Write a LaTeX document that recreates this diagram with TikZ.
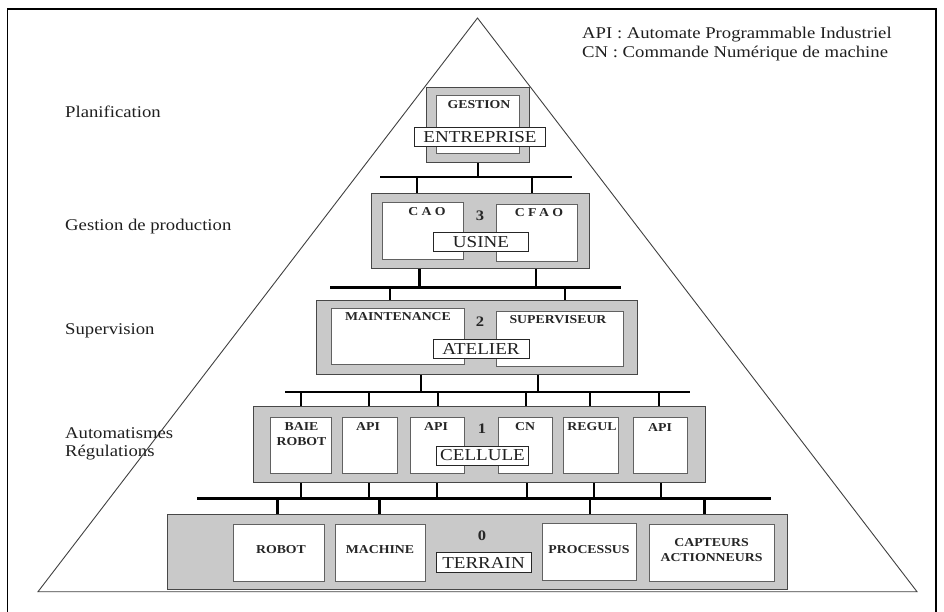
\documentclass[tikz,border=0pt]{standalone}
\usepackage{fontspec}
\newfontfamily\lsf[FakeStretch=1.14]{Liberation Serif}
\newfontfamily\lsfcao[FakeStretch=1.14,LetterSpace=28]{Liberation Serif}
\usetikzlibrary{backgrounds}
\begin{document}
\begin{tikzpicture}[x=1pt,y=-1pt,
  graybox/.style={draw=black!72, fill=black!21, line width=1.4pt, inner sep=0pt, anchor=north west},
  whitebox/.style={draw=black!62, fill=white, line width=1.3pt, inner sep=0pt, anchor=north west},
  lblbox/.style={draw=black!85, fill=white, line width=1pt, inner sep=0pt, font=\lsf\fontsize{16.7}{17}\selectfont, text=black!88},
  sm/.style={font=\lsf\bfseries\fontsize{12.1}{14.5}\selectfont, text=black!85, align=center, inner sep=0pt},
  spaced/.style={font=\lsfcao\bfseries\fontsize{12.1}{14}\selectfont, text=black!85, inner sep=0pt},
  digit/.style={font=\lsf\bfseries\fontsize{14.5}{14}\selectfont, text=black!85, inner sep=0pt},
  side/.style={font=\lsf\fontsize{16.4}{18}\selectfont, text=black!88, anchor=base west, inner sep=0pt},
  bus/.style={line width=2.8pt},
  stem/.style={line width=2.3pt}]
\useasboundingbox (0,0) rectangle (944,612);

% frame
\draw[line width=1.6pt] (7.5,612) -- (7.5,9) -- (936,9) -- (936,612);

% side labels
\node[side] (planif) at (65,118) {Planification};
\node[side] (gprod) at (65,231) {Gestion de production};
\node[side] (superv) at (65,334) {Supervision};
\node[side] (autom) at (65,438) {Automatismes};
\node[side] (regul) at (65,456) {Régulations};

% legend
\node[side] (leg1) at (582,39) {API : Automate Programmable Industriel};
\node[side] (leg2) at (582,57.5) {CN : Commande Numérique de machine};

% ---- level 4 : entreprise
\node[graybox, minimum width=103pt, minimum height=75pt] (g4) at (426,87) {};
\node[whitebox, minimum width=83pt, minimum height=58pt] (w4) at (436,95) {};
\node[sm] (gestion) at (479,105) {GESTION};
\node[lblbox, minimum width=131pt, minimum height=18.5pt] (entreprise) at (480,137) {ENTREPRISE};

% ---- level 3 : usine
\node[graybox, minimum width=218pt, minimum height=75pt] (g3) at (371,193) {};
\node[whitebox, minimum width=81pt, minimum height=57pt] (cao) at (382,202) {};
\node[whitebox, minimum width=81pt, minimum height=57pt] (cfao) at (496,204) {};
\node[spaced] (caot) at (427,212) {CAO};
\node[spaced] (cfaot) at (539,213) {CFAO};
\node[digit] (d3) at (480,216) {3};
\node[lblbox, minimum width=95pt, minimum height=18pt] (usine) at (481,242) {USINE};

% ---- level 2 : atelier
\node[graybox, minimum width=321pt, minimum height=74pt] (g2) at (316,300) {};
\node[whitebox, minimum width=133pt, minimum height=56pt] (maint) at (331,308) {};
\node[whitebox, minimum width=127pt, minimum height=55pt] (supv) at (496,311) {};
\node[sm] (maintt) at (398,317) {MAINTENANCE};
\node[sm] (supvt) at (558,320) {SUPERVISEUR};
\node[digit] (d2) at (480,322) {2};
\node[lblbox, minimum width=96pt, minimum height=19pt] (atelier) at (481,349) {ATELIER};

% ---- level 1 : cellule
\node[graybox, minimum width=452pt, minimum height=76pt] (g1) at (253,406) {};
\node[whitebox, minimum width=61pt, minimum height=56pt] (c1) at (270,417) {};
\node[whitebox, minimum width=55pt, minimum height=56pt] (c2) at (342,417) {};
\node[whitebox, minimum width=54pt, minimum height=56pt] (c3) at (410,417) {};
\node[whitebox, minimum width=54pt, minimum height=56pt] (c4) at (498,417) {};
\node[whitebox, minimum width=55pt, minimum height=56pt] (c5) at (563,417) {};
\node[whitebox, minimum width=54pt, minimum height=56pt] (c6) at (633,417) {};
\node[sm] (c1t) at (301.5,434) {BAIE\\ROBOT};
\node[sm] (c2t) at (368,427) {API};
\node[sm] (c3t) at (436,427) {API};
\node[sm] (c4t) at (525,427) {CN};
\node[sm] (c5t) at (592,427) {REGUL};
\node[sm] (c6t) at (660,428) {API};
\node[digit] (d1) at (482,429) {1};
\node[lblbox, minimum width=92pt, minimum height=19pt] (cellule) at (482.5,455.5) {CELLULE};

% ---- level 0 : terrain
\node[graybox, minimum width=620pt, minimum height=75pt] (g0) at (167,514) {};
\node[whitebox, minimum width=91pt, minimum height=57pt] (robot) at (233,524) {};
\node[whitebox, minimum width=90pt, minimum height=57pt] (machine) at (335,524) {};
\node[whitebox, minimum width=94pt, minimum height=57pt] (proc) at (542,523) {};
\node[whitebox, minimum width=125pt, minimum height=57pt] (capt) at (649,524) {};
\node[sm] (robott) at (281,550) {ROBOT};
\node[sm] (machinet) at (380,550) {MACHINE};
\node[sm] (proct) at (589,550) {PROCESSUS};
\node[sm] (captt) at (711.5,550) {CAPTEURS\\ACTIONNEURS};
\node[digit] (d0) at (482,536) {0};
\node[lblbox, minimum width=95pt, minimum height=20pt] (terrain) at (483.5,562.5) {TERRAIN};

% ---- background: pyramid, buses, stems
\begin{scope}[on background layer]
\coordinate (apex) at (477.5,18);
\coordinate (baseL) at (38,591.7);
\coordinate (baseR) at (917,591.7);
\draw[black!75, line width=0.9pt] (baseL) -- (apex) -- (baseR) -- cycle;

% bus 1
\coordinate (b1l) at (380,177); \coordinate (b1r) at (572,177);
\draw[bus] (b1l) -- (b1r);
\draw[stem] (g4.south) -- (g4.south |- b1l);
\coordinate (b1a) at (417,177); \coordinate (b1b) at (532,177);
\draw[stem] (b1a) -- (b1a |- g3.north);
\draw[stem] (b1b) -- (b1b |- g3.north);

% bus 2
\coordinate (b2l) at (330,287.5); \coordinate (b2r) at (621,287.5);
\draw[bus] (b2l) -- (b2r);
\coordinate (u2a) at (419.5,287.5); \coordinate (u2b) at (536,287.5);
\draw[stem] (u2a |- g3.south) -- (u2a);
\draw[stem] (u2b |- g3.south) -- (u2b);
\coordinate (b2a) at (390,287.5); \coordinate (b2b) at (565,287.5);
\draw[stem] (b2a) -- (b2a |- g2.north);
\draw[stem] (b2b) -- (b2b |- g2.north);

% bus 3
\coordinate (b3l) at (285,392); \coordinate (b3r) at (690,392);
\draw[bus] (b3l) -- (b3r);
\coordinate (u3a) at (421,392); \coordinate (u3b) at (538,392);
\draw[stem] (u3a |- g2.south) -- (u3a);
\draw[stem] (u3b |- g2.south) -- (u3b);
\foreach \xx [count=\i] in {301,369,438,526,590,659}{
  \coordinate (b3t\i) at (\xx,392);
  \draw[stem] (b3t\i) -- (b3t\i |- g1.north);
}

% bus 4
\coordinate (b4l) at (197,498.5); \coordinate (b4r) at (771,498.5);
\draw[bus] (b4l) -- (b4r);
\foreach \xx [count=\i] in {301,369,437,527,594,661}{
  \coordinate (u4t\i) at (\xx,498.5);
  \draw[stem] (u4t\i |- g1.south) -- (u4t\i);
}
\foreach \xx [count=\i] in {277.5,379.5,590,704.5}{
  \coordinate (b4t\i) at (\xx,498.5);
  \draw[stem] (b4t\i) -- (b4t\i |- g0.north);
}
\end{scope}
\end{tikzpicture}
\end{document}
